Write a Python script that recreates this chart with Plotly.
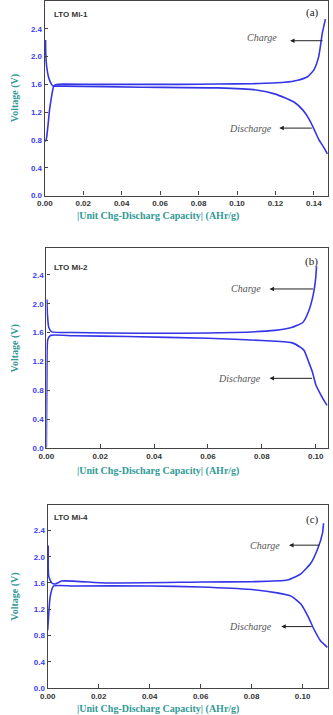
import plotly.graph_objects as go

W, H = 333, 715

# ---------------- data ----------------
# Panel (a) LTO Mi-1
charge_a_x = [0.0004, 0.0005, 0.001, 0.002, 0.0035, 0.0045, 0.006, 0.01, 0.03, 0.05, 0.07, 0.09, 0.108,
              0.1246, 0.1316, 0.1367, 0.14, 0.1425, 0.1444, 0.146]
charge_a_v = [2.24, 2.05, 1.85, 1.70, 1.60, 1.575, 1.60, 1.605, 1.60, 1.60, 1.60, 1.605, 1.61,
              1.63, 1.66, 1.71, 1.81, 2.00, 2.34, 2.54]
discharge_a_x = [0.0, 0.0007, 0.0025, 0.004, 0.0046, 0.006, 0.01, 0.05, 0.09, 0.11, 0.12, 0.13, 0.1343,
                 0.1375, 0.14, 0.1425, 0.145, 0.147]
discharge_a_v = [0.78, 0.80, 1.24, 1.50, 1.57, 1.575, 1.575, 1.56, 1.55, 1.52, 1.46, 1.34, 1.23,
                 1.10, 0.96, 0.81, 0.70, 0.60]

# Panel (b) LTO Mi-2
charge_b_x = [0.0002, 0.0004, 0.0009, 0.002, 0.01, 0.034, 0.05, 0.07, 0.0848, 0.091, 0.0952, 0.0974,
              0.0991, 0.1, 0.1003]
charge_b_v = [2.06, 1.85, 1.67, 1.61, 1.60, 1.59, 1.59, 1.60, 1.63, 1.67, 1.74, 1.90,
              2.13, 2.36, 2.52]
discharge_b_x = [0.0, 0.0002, 0.0005, 0.0015, 0.01, 0.03, 0.06, 0.08, 0.091, 0.0945, 0.0957, 0.0974,
                 0.0988, 0.1, 0.1017, 0.1035, 0.1042]
discharge_b_v = [0.0, 1.0, 1.50, 1.56, 1.555, 1.545, 1.52, 1.49, 1.46, 1.39, 1.35, 1.19,
                 1.05, 0.88, 0.75, 0.63, 0.59]

# Panel (c) LTO Mi-4
charge_c_x = [0.0002, 0.0004, 0.0016, 0.003, 0.0055, 0.0227, 0.061, 0.08, 0.094, 0.0993, 0.1032,
              0.1058, 0.1078, 0.1082]
charge_c_v = [2.17, 1.70, 1.60, 1.585, 1.63, 1.60, 1.615, 1.62, 1.645, 1.74, 1.90,
              2.11, 2.36, 2.51]
discharge_c_x = [0.0, 0.001, 0.0023, 0.01, 0.04, 0.06, 0.08, 0.09, 0.0955, 0.0993, 0.102, 0.1044,
                 0.107, 0.1097]
discharge_c_v = [0.88, 1.40, 1.555, 1.555, 1.555, 1.54, 1.50, 1.45, 1.40, 1.28, 1.10, 0.90,
                 0.72, 0.62]

y_ticks = [0.0, 0.4, 0.8, 1.2, 1.6, 2.0, 2.4]
x_ticks_a = [0.00, 0.02, 0.04, 0.06, 0.08, 0.10, 0.12, 0.14]
x_ticks_bc = [0.00, 0.02, 0.04, 0.06, 0.08, 0.10]
panel_labels = ["LTO Mi-1", "LTO Mi-2", "LTO Mi-4"]
panel_tags = ["(a)", "(b)", "(c)"]
x_title = "|Unit Chg-Discharg Capacity| (AHr/g)"
y_title = "Voltage (V)"

# ---------------- layout helpers ----------------
def fx(p):
    return p / W

def fy(p):
    return 1 - p / H

LINE = "#3535e8"
AXC = "#444444"
TEAL = "#2f9a96"
YTICK = "#3b3bf2"

panels = [
    dict(l=37.7, r=328, t=1, b=197, xr=[0, 0.1474], yr=[0, 2.8], xt=x_ticks_a,
         cx=charge_a_x, cv=charge_a_v, dx=discharge_a_x, dv=discharge_a_v),
    dict(l=39.3, r=328, t=250, b=451, xr=[0, 0.1046], yr=[0, 2.77], xt=x_ticks_bc,
         cx=charge_b_x, cv=charge_b_v, dx=discharge_b_x, dv=discharge_b_v),
    dict(l=40.7, r=328, t=509, b=693, xr=[0, 0.110], yr=[0, 2.78], xt=x_ticks_bc,
         cx=charge_c_x, cv=charge_c_v, dx=discharge_c_x, dv=discharge_c_v),
]

fig = go.Figure()
layout = dict(width=W, height=H, margin=dict(l=0, r=0, t=0, b=0),
              paper_bgcolor="white", plot_bgcolor="white", showlegend=False)

for i, p in enumerate(panels):
    n = "" if i == 0 else str(i + 1)
    xa, ya = "x" + n, "y" + n
    fig.add_trace(go.Scatter(x=p["cx"], y=p["cv"], mode="lines", xaxis=xa, yaxis=ya,
                             line=dict(color=LINE, width=1.6, shape="spline", smoothing=0.5),
                             name="Charge", cliponaxis=True))
    fig.add_trace(go.Scatter(x=p["dx"], y=p["dv"], mode="lines", xaxis=xa, yaxis=ya,
                             line=dict(color=LINE, width=1.6, shape="spline", smoothing=0.5),
                             name="Discharge", cliponaxis=True))
    layout["xaxis" + n] = dict(
        domain=[fx(p["l"]), fx(p["r"])], range=p["xr"], anchor=ya,
        tickvals=p["xt"], ticktext=[f"{v:.2f}" for v in p["xt"]],
        showline=True, mirror=True, linecolor=AXC, linewidth=1.3,
        ticks="inside", ticklen=4, tickcolor=AXC, showgrid=False, zeroline=False,
        tickfont=dict(family="Liberation Sans", size=8, color="#333333", weight="bold"))
    layout["yaxis" + n] = dict(
        domain=[fy(p["b"]), fy(p["t"])], range=p["yr"], anchor=xa,
        tickvals=y_ticks, ticktext=[f"{v:.1f}" for v in y_ticks],
        showline=True, mirror=True, linecolor=AXC, linewidth=1.3,
        ticks="inside", ticklen=3, tickcolor=AXC, showgrid=False, zeroline=False,
        tickfont=dict(family="Liberation Sans", size=8, color=YTICK, weight="bold"))

fig.update_layout(**layout)

ann = []
def text(xp, yp, s, size, color, family, weight="normal", style="normal", xanchor="center", angle=0):
    ann.append(dict(x=fx(xp), y=fy(yp), xref="paper", yref="paper", text=s, showarrow=False,
                    xanchor=xanchor, yanchor="middle", textangle=angle,
                    font=dict(size=size, color=color, family=family, weight=weight, style=style)))

def arrow(head_x, tail_x, yp):
    ann.append(dict(x=fx(head_x), y=fy(yp), xref="paper", yref="paper", text="",
                    showarrow=True, ax=tail_x - head_x, ay=0, axref="pixel", ayref="pixel",
                    arrowhead=2, arrowsize=0.9, arrowwidth=1, arrowcolor="#222222"))

label_pos = [
    dict(lto=(45, 15), tag=(312, 13), ch=(260, 38), cha=(289, 323, 41), di=(248, 129), dia=(278, 312, 129),
         xt=218, yc=99),
    dict(lto=(45, 269), tag=(311, 263), ch=(244, 291), cha=(268, 313, 291), di=(237, 381), dia=(268, 312, 381),
         xt=474, yc=351),
    dict(lto=(45, 521), tag=(312, 523), ch=(263, 549), cha=(288, 320, 549), di=(248, 631), dia=(280, 312, 631),
         xt=714, yc=601),
]

for i, lp in enumerate(label_pos):
    text(lp["lto"][0], lp["lto"][1], panel_labels[i], 8, "#333333", "Liberation Sans", weight="bold", xanchor="left")
    text(lp["tag"][0], lp["tag"][1], panel_tags[i], 11, "#222222", "Liberation Serif")
    text(lp["ch"][0], lp["ch"][1], "Charge", 10, "#555555", "Liberation Serif", style="italic")
    arrow(*lp["cha"])
    text(lp["di"][0], lp["di"][1], "Discharge", 10, "#555555", "Liberation Serif", style="italic")
    arrow(*lp["dia"])
    text(154, lp["xt"], x_title, 10, TEAL, "Liberation Serif", weight="bold")
    text(7, lp["yc"], y_title, 10, TEAL, "Liberation Serif", weight="bold", angle=-90)

fig.update_layout(annotations=ann)
fig.write_html("out.html")
